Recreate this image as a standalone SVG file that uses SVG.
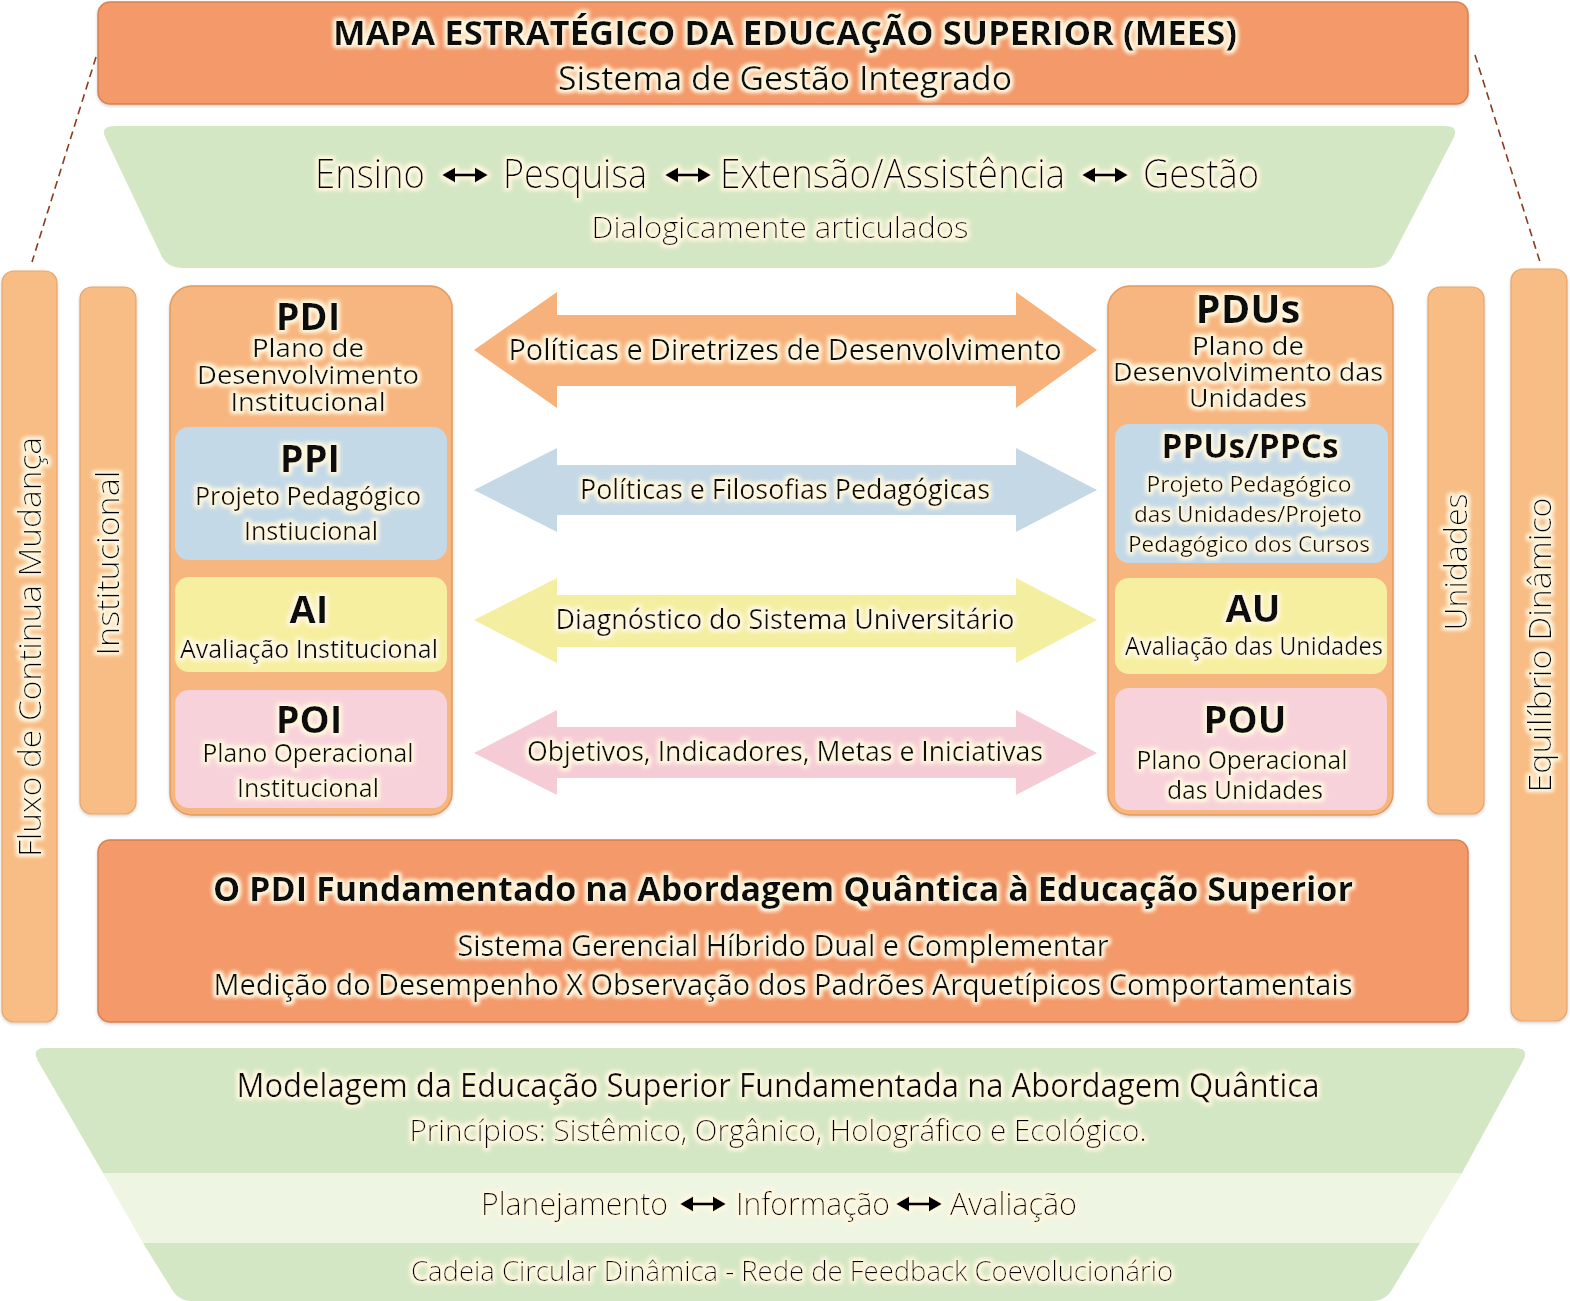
<svg xmlns="http://www.w3.org/2000/svg" xmlns:xlink="http://www.w3.org/1999/xlink" width="1570" height="1301" viewBox="0 0 1570 1301">
<defs>
<filter id="glow" x="-5%" y="-40%" width="110%" height="180%">
<feMorphology in="SourceAlpha" operator="dilate" radius="1.5" result="d"/>
<feGaussianBlur in="d" stdDeviation="2.2" result="b"/>
<feFlood flood-color="#FFF7DF"/>
<feComposite in2="b" operator="in" result="g"/>
<feMerge><feMergeNode in="g"/><feMergeNode in="g"/><feMergeNode in="SourceGraphic"/></feMerge>
</filter>
<filter id="shadow" x="-5%" y="-5%" width="110%" height="110%">
<feDropShadow dx="0" dy="1.5" stdDeviation="1.5" flood-color="#000" flood-opacity="0.18"/>
</filter>
<path id="dbl" d="M-23,0 L-10,-7.5 L-10,-1.6 L10,-1.6 L10,-7.5 L23,0 L10,7.5 L10,1.6 L-10,1.6 L-10,7.5 Z"/>
</defs>
<style>
text{font-family:"Open Sans","Noto Sans","DejaVu Sans",sans-serif;fill:#0A0A0A;}
.t{filter:url(#glow);}
.b{font-weight:700;}
.l{font-weight:300;fill:#000;}
.m{text-anchor:middle;}
.hdr{fill:#F3996B;stroke:#D9804F;stroke-width:1.5;filter:url(#shadow);}
.grn{fill:#D4E7C4;}
.grn2{fill:#EEF5E3;}
.bar{fill:#F8BC85;stroke:#E8A56C;stroke-width:1.2;filter:url(#shadow);}
.col{fill:#F7B67F;stroke:#E29A5E;stroke-width:1.5;filter:url(#shadow);}
.blue{fill:#C4D9E7;}
.yel{fill:#F6EFA0;}
.pink{fill:#F8D2DB;}
.dash{stroke:#8B3B1F;stroke-width:1.6;stroke-dasharray:8 5;fill:none;}
</style>
<rect width="1570" height="1301" fill="#FFFFFF"/>

<g id="connectors">
<line class="dash" x1="96" y1="57" x2="32" y2="262"/>
<line class="dash" x1="1475" y1="55" x2="1540" y2="262"/>
<path fill="#F7B27B" d="M474,350 L557,292 L557,315 L1016,315 L1016,292 L1097,350 L1016,408 L1016,386 L557,386 L557,408 Z"/>
<path fill="#C5D8E6" d="M474,490 L557,448 L557,465 L1016,465 L1016,448 L1097,490 L1016,532 L1016,515 L557,515 L557,532 Z"/>
<path fill="#F4EEA0" d="M474,620 L557,578 L557,595 L1016,595 L1016,578 L1097,620 L1016,663 L1016,647 L557,647 L557,663 Z"/>
<path fill="#F5CCD6" d="M474,753 L557,710 L557,727 L1016,727 L1016,710 L1097,753 L1016,795 L1016,778 L557,778 L557,795 Z"/>
<g class="t">
<text class="m" x="785" y="360" font-size="30" textLength="553" lengthAdjust="spacingAndGlyphs">Políticas e Diretrizes de Desenvolvimento</text>
<text class="m" x="785" y="499" font-size="28" textLength="410" lengthAdjust="spacingAndGlyphs">Políticas e Filosofias Pedagógicas</text>
<text class="m" x="785" y="629" font-size="28" textLength="459" lengthAdjust="spacingAndGlyphs">Diagnóstico do Sistema Universitário</text>
<text class="m" x="785" y="761" font-size="28" textLength="516" lengthAdjust="spacingAndGlyphs">Objetivos, Indicadores, Metas e Iniciativas</text>
</g>
</g>

<g id="header">
<rect class="hdr" x="98" y="2" width="1370" height="102" rx="12"/>
<g class="t">
<text class="m b" x="785" y="45" font-size="34" textLength="904" lengthAdjust="spacingAndGlyphs">MAPA ESTRATÉGICO DA EDUCAÇÃO SUPERIOR (MEES)</text>
<text class="m" x="785" y="90" font-size="32" textLength="454" lengthAdjust="spacingAndGlyphs">Sistema de Gestão Integrado</text>
</g>
</g>

<g id="pillars">
<path class="grn" d="M115,126 L1445,126 Q1460,126 1453,139 L1392,257 Q1386,268 1372,268 L182,268 Q168,268 162,257 L106,139 Q99,126 115,126 Z"/>
<g class="t">
<text class="l" x="315" y="188" font-size="40" textLength="110" lengthAdjust="spacingAndGlyphs">Ensino</text>
<use xlink:href="#dbl" x="465" y="175"/>
<text class="l" x="503" y="188" font-size="40" textLength="144" lengthAdjust="spacingAndGlyphs">Pesquisa</text>
<use xlink:href="#dbl" x="688" y="175"/>
<text class="l" x="720" y="188" font-size="40" textLength="345" lengthAdjust="spacingAndGlyphs">Extensão/Assistência</text>
<use xlink:href="#dbl" x="1105" y="175"/>
<text class="l" x="1143" y="188" font-size="40" textLength="116" lengthAdjust="spacingAndGlyphs">Gestão</text>
<text class="m l" x="780" y="238" font-size="30" textLength="377" lengthAdjust="spacingAndGlyphs">Dialogicamente articulados</text>
</g>
</g>

<g id="fluxo">
<rect class="bar" x="2" y="271" width="55" height="751" rx="12"/>
<text class="m l t" transform="translate(30,647) rotate(-90)" x="0" y="11" font-size="31" textLength="420" lengthAdjust="spacingAndGlyphs">Fluxo de Continua Mudança</text>
</g>
<g id="institucional">
<rect class="bar" x="80" y="287" width="56" height="527" rx="12"/>
<text class="m l t" transform="translate(108,563) rotate(-90)" x="0" y="11" font-size="31" textLength="185" lengthAdjust="spacingAndGlyphs">Institucional</text>
</g>
<g id="unidades">
<rect class="bar" x="1428" y="287" width="56" height="527" rx="12"/>
<text class="m l t" transform="translate(1456,562) rotate(-90)" x="0" y="11" font-size="31" textLength="137" lengthAdjust="spacingAndGlyphs">Unidades</text>
</g>
<g id="equilibrio">
<rect class="bar" x="1511" y="269" width="56" height="752" rx="12"/>
<text class="m l t" transform="translate(1540,645) rotate(-90)" x="0" y="11" font-size="31" textLength="295" lengthAdjust="spacingAndGlyphs">Equilíbrio Dinâmico</text>
</g>

<g id="pdi">
<rect class="col" x="170" y="286" width="282" height="529" rx="22"/>
<g class="t">
<text class="m b" x="308" y="330" font-size="38">PDI</text>
<text class="m" x="308" y="357" font-size="25" textLength="112" lengthAdjust="spacingAndGlyphs">Plano de</text>
<text class="m" x="308" y="384" font-size="25" textLength="222" lengthAdjust="spacingAndGlyphs">Desenvolvimento</text>
<text class="m" x="308" y="411" font-size="25" textLength="155" lengthAdjust="spacingAndGlyphs">Institucional</text>
</g>
</g>
<g id="ppi">
<rect class="blue" x="175" y="427" width="272" height="133" rx="14"/>
<g class="t">
<text class="m b" x="310" y="472" font-size="38">PPI</text>
<text class="m" x="308" y="505" font-size="25" textLength="226" lengthAdjust="spacingAndGlyphs">Projeto Pedagógico</text>
<text class="m" x="311" y="540" font-size="25" textLength="134" lengthAdjust="spacingAndGlyphs">Instiucional</text>
</g>
</g>
<g id="ai">
<rect class="yel" x="175" y="577" width="272" height="95" rx="14"/>
<g class="t">
<text class="m b" x="309" y="623" font-size="38">AI</text>
<text class="m" x="309" y="658" font-size="25" textLength="258" lengthAdjust="spacingAndGlyphs">Avaliação Institucional</text>
</g>
</g>
<g id="poi">
<rect class="pink" x="175" y="690" width="272" height="118" rx="14"/>
<g class="t">
<text class="m b" x="309" y="733" font-size="38">POI</text>
<text class="m" x="308" y="762" font-size="25" textLength="211" lengthAdjust="spacingAndGlyphs">Plano Operacional</text>
<text class="m" x="308" y="797" font-size="25" textLength="142" lengthAdjust="spacingAndGlyphs">Institucional</text>
</g>
</g>

<g id="pdus">
<rect class="col" x="1108" y="286" width="285" height="529" rx="22"/>
<g class="t">
<text class="m b" x="1248" y="323" font-size="40">PDUs</text>
<text class="m" x="1248" y="355" font-size="25" textLength="112" lengthAdjust="spacingAndGlyphs">Plano de</text>
<text class="m" x="1248" y="381" font-size="25" textLength="270" lengthAdjust="spacingAndGlyphs">Desenvolvimento das</text>
<text class="m" x="1248" y="407" font-size="25" textLength="118" lengthAdjust="spacingAndGlyphs">Unidades</text>
</g>
</g>
<g id="ppus">
<rect class="blue" x="1115" y="424" width="273" height="139" rx="14"/>
<g class="t">
<text class="m b" x="1250" y="458" font-size="34" textLength="177" lengthAdjust="spacingAndGlyphs">PPUs/PPCs</text>
<text class="m" x="1249" y="492" font-size="22" textLength="205" lengthAdjust="spacingAndGlyphs">Projeto Pedagógico</text>
<text class="m" x="1248" y="522" font-size="22" textLength="228" lengthAdjust="spacingAndGlyphs">das Unidades/Projeto</text>
<text class="m" x="1249" y="552" font-size="22" textLength="242" lengthAdjust="spacingAndGlyphs">Pedagógico dos Cursos</text>
</g>
</g>
<g id="au">
<rect class="yel" x="1115" y="578" width="272" height="96" rx="14"/>
<g class="t">
<text class="m b" x="1253" y="622" font-size="38">AU</text>
<text class="m" x="1254" y="655" font-size="25" textLength="258" lengthAdjust="spacingAndGlyphs">Avaliação das Unidades</text>
</g>
</g>
<g id="pou">
<rect class="pink" x="1115" y="688" width="272" height="122" rx="14"/>
<g class="t">
<text class="m b" x="1245" y="733" font-size="38">POU</text>
<text class="m" x="1242" y="769" font-size="25" textLength="211" lengthAdjust="spacingAndGlyphs">Plano Operacional</text>
<text class="m" x="1245" y="799" font-size="25" textLength="156" lengthAdjust="spacingAndGlyphs">das Unidades</text>
</g>
</g>

<g id="fundamentado">
<rect class="hdr" x="98" y="840" width="1370" height="182" rx="12"/>
<g class="t">
<text class="m b" x="783" y="901" font-size="34" textLength="1140" lengthAdjust="spacingAndGlyphs">O PDI Fundamentado na Abordagem Quântica à Educação Superior</text>
<text class="m" x="783" y="956" font-size="29" textLength="651" lengthAdjust="spacingAndGlyphs">Sistema Gerencial Híbrido Dual e Complementar</text>
<text class="m" x="783" y="995" font-size="29" textLength="1139" lengthAdjust="spacingAndGlyphs">Medição do Desempenho X Observação dos Padrões Arquetípicos Comportamentais</text>
</g>
</g>

<g id="modelagem">
<path class="grn" d="M45,1048 L1515,1048 Q1530,1048 1523,1061 L1462,1173 L103,1173 L38,1061 Q31,1048 45,1048 Z"/>
<path class="grn2" d="M103,1173 L1462,1173 L1420,1243 L143,1243 Z"/>
<path class="grn" d="M143,1243 L1420,1243 L1393,1288 Q1386,1301 1372,1301 L192,1301 Q178,1301 171,1288 Z"/>
<g class="t">
<text class="m" x="778" y="1097" font-size="32" textLength="1083" lengthAdjust="spacingAndGlyphs">Modelagem da Educação Superior Fundamentada na Abordagem Quântica</text>
<text class="m l" x="778" y="1141" font-size="30" textLength="737" lengthAdjust="spacingAndGlyphs">Princípios: Sistêmico, Orgânico, Holográfico e Ecológico.</text>
<text class="l" x="481" y="1215" font-size="31" textLength="187" lengthAdjust="spacingAndGlyphs">Planejamento</text>
<use xlink:href="#dbl" x="703" y="1204"/>
<text class="l" x="736" y="1215" font-size="31" textLength="154" lengthAdjust="spacingAndGlyphs">Informação</text>
<use xlink:href="#dbl" x="919" y="1204"/>
<text class="l" x="950" y="1215" font-size="31" textLength="127" lengthAdjust="spacingAndGlyphs">Avaliação</text>
<text class="m l" x="792" y="1281" font-size="28" textLength="762" lengthAdjust="spacingAndGlyphs">Cadeia Circular Dinâmica - Rede de Feedback Coevolucionário</text>
</g>
</g>
</svg>
